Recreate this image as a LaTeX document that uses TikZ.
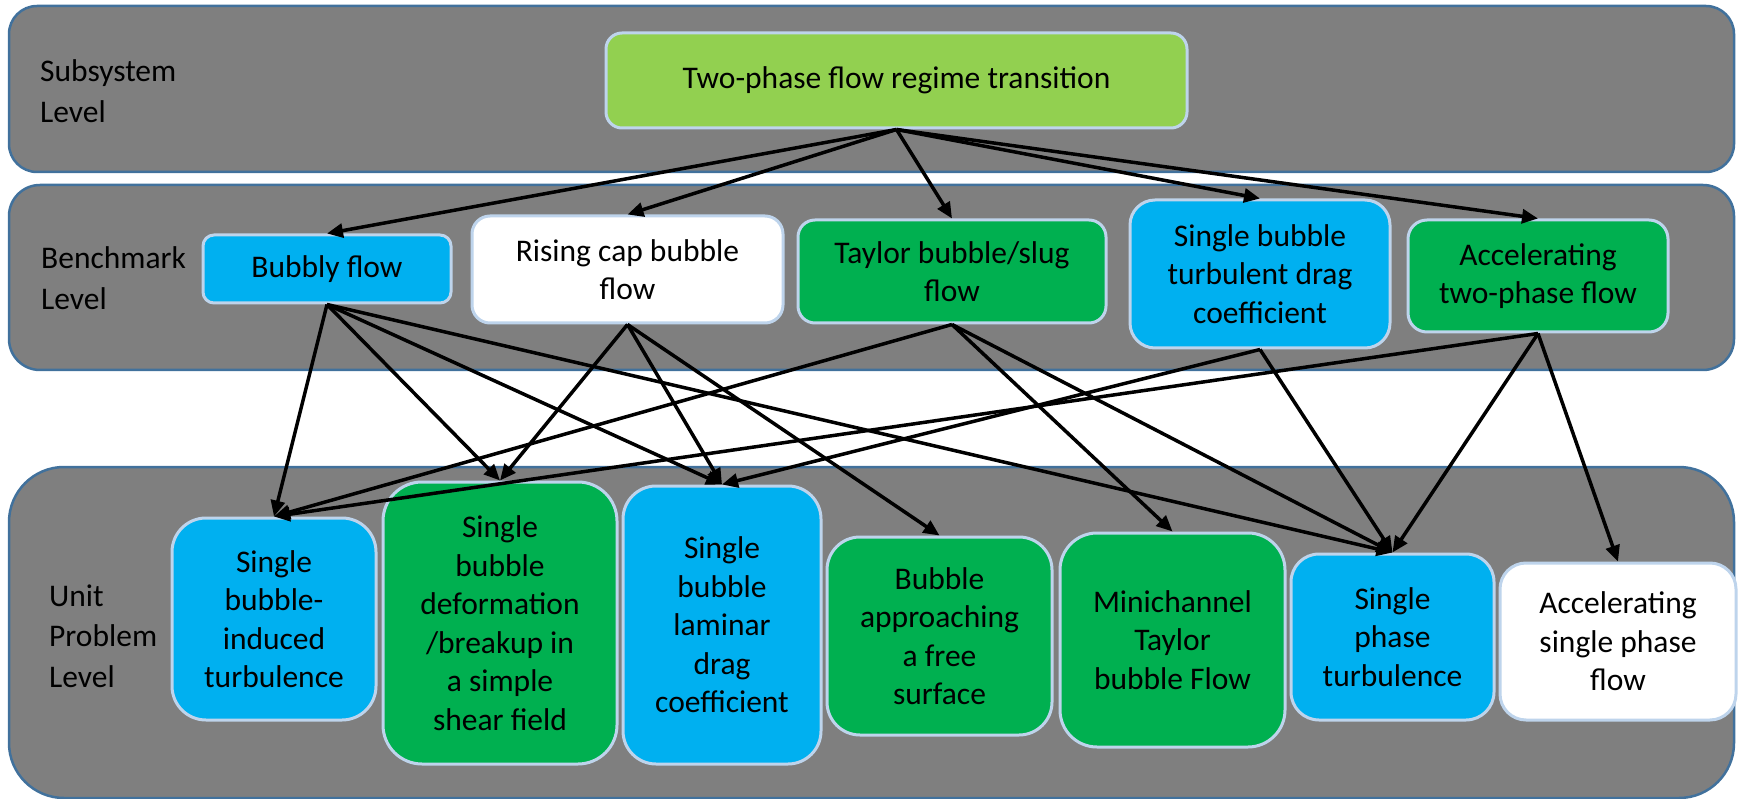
\documentclass[tikz,border=0pt]{standalone}
\usepackage{fontspec}
\setmainfont{Carlito}
\usetikzlibrary{arrows.meta}

\definecolor{bandgray}{RGB}{127,127,127}
\definecolor{bandline}{RGB}{65,113,156}
\definecolor{boxline}{RGB}{190,212,236}
\definecolor{limegreen}{RGB}{146,208,80}
\definecolor{boxgreen}{RGB}{0,176,80}
\definecolor{boxblue}{RGB}{0,176,240}

\newcommand\boxfont{\fontsize{31.5}{38.5}\selectfont}
\newcommand\lvlfont{\fontsize{31.5}{40.5}\selectfont}

\tikzset{
  band/.style={draw=bandline, fill=bandgray, line width=2.5pt, inner sep=0pt,
    minimum width=1725pt},
  box/.style={draw=boxline, line width=3pt, align=center, inner sep=0pt, font=\boxfont},
  lvl/.style={align=left, anchor=west, inner sep=0pt, font=\lvlfont},
  link/.style={-{Triangle[length=16pt,width=14pt]}, line width=3.5pt},
}

\begin{document}
\begin{tikzpicture}[x=1pt,y=-1pt]
  \useasboundingbox (0,0) rectangle (1738,799);
  % levels
  \node[band, minimum height=166pt, rounded corners=28pt] (subband) at (871.5,89) {};
  \node[band, minimum height=185pt, rounded corners=31pt] (benchband) at (871.5,277.5) {};
  \node[band, minimum height=331pt, rounded corners=55pt] (unitband) at (871.5,632.5) {};
  \node[lvl] (sublabel) at (40,91) {Subsystem\\Level};
  \node[lvl] (benchlabel) at (41,278) {Benchmark\\Level};
  \node[lvl] (unitlabel) at (49,636) {Unit\\Problem\\Level};

  % subsystem
  \node[box, fill=limegreen, minimum width=581pt, minimum height=95pt, rounded corners=16pt]
    (regime) at (896.5,80.5) {Two-phase flow regime transition};

  % benchmarks
  \node[box, fill=boxblue, minimum width=248pt, minimum height=68pt, rounded corners=11pt]
    (bubbly) at (327,269) {Bubbly flow};
  \node[box, fill=white, minimum width=311pt, minimum height=107pt, rounded corners=18pt]
    (rising) at (627.5,269.5) {Rising cap bubble\\flow};
  \node[box, fill=boxgreen, minimum width=308pt, minimum height=103pt, rounded corners=17pt]
    (taylor) at (952,271.5) {Taylor bubble/slug\\flow};
  \node[box, fill=boxblue, minimum width=260pt, minimum height=148pt, rounded corners=25pt]
    (sbturb) at (1260,274) {Single bubble\\turbulent drag\\coefficient};
  \node[box, fill=boxgreen, minimum width=260pt, minimum height=112pt, rounded corners=19pt]
    (accel2) at (1538,276) {Accelerating\\two-phase flow};

  % unit problems
  \node[box, fill=boxblue, minimum width=204pt, minimum height=202pt, rounded corners=34pt]
    (induced) at (274,619) {Single\\bubble-\\induced\\turbulence};
  \node[box, fill=boxgreen, minimum width=234pt, minimum height=282pt, rounded corners=39pt]
    (deform) at (500,623) {Single\\bubble\\deformation\\/breakup in\\a simple\\shear field};
  \node[box, fill=boxblue, minimum width=198pt, minimum height=278pt, rounded corners=33pt]
    (laminar) at (722,625) {Single\\bubble\\laminar\\drag\\coefficient};
  \node[box, fill=boxgreen, minimum width=225pt, minimum height=198pt, rounded corners=33pt]
    (approach) at (939.5,636) {Bubble\\approaching\\a free\\surface};
  \node[box, fill=boxgreen, minimum width=225pt, minimum height=214pt, rounded corners=37pt]
    (minich) at (1172.5,640) {Minichannel\\Taylor\\bubble Flow};
  \node[box, fill=boxblue, minimum width=203pt, minimum height=166pt, rounded corners=28pt]
    (sphase) at (1392.5,637) {Single\\phase\\turbulence};
  \node[box, fill=white, minimum width=236pt, minimum height=157pt, rounded corners=26pt]
    (accel1) at (1618,641.5) {Accelerating\\single phase\\flow};

  % subsystem -> benchmarks
  \draw[link] (regime.south) -- (bubbly.north);
  \draw[link] (regime.south) -- (rising.north);
  \draw[link] (regime.south) -- (taylor.north);
  \draw[link] (regime.south) -- (sbturb.north);
  \draw[link] (regime.south) -- (accel2.north);
  % benchmarks -> unit problems
  \draw[link] (bubbly.south) -- (induced.north);
  \draw[link] (bubbly.south) -- (deform.north);
  \draw[link] (bubbly.south) -- (laminar.north);
  \draw[link] (bubbly.south) -- (sphase.north);
  \draw[link] (rising.south) -- (deform.north);
  \draw[link] (rising.south) -- (laminar.north);
  \draw[link] (rising.south) -- (approach.north);
  \draw[link] (taylor.south) -- (induced.north);
  \draw[link] (taylor.south) -- (minich.north);
  \draw[link] (taylor.south) -- (sphase.north);
  \draw[link] (sbturb.south) -- (laminar.north);
  \draw[link] (sbturb.south) -- (sphase.north);
  \draw[link] (accel2.south) -- (induced.north);
  \draw[link] (accel2.south) -- (sphase.north);
  \draw[link] (accel2.south) -- (accel1.north);
\end{tikzpicture}
\end{document}
